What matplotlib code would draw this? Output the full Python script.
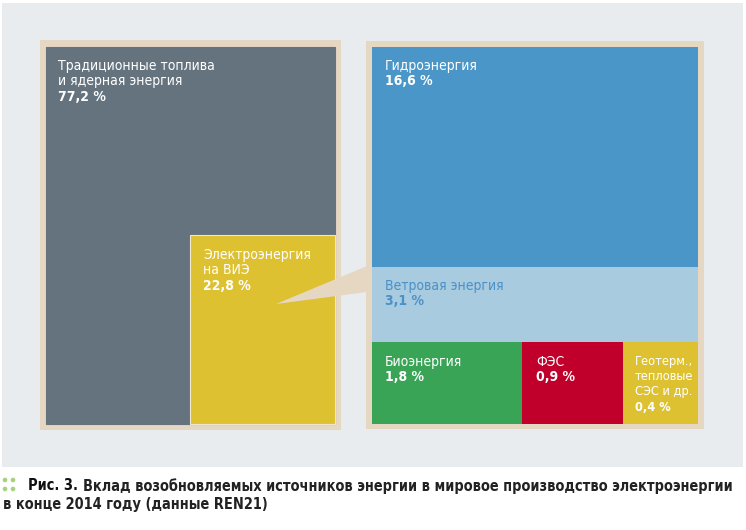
import matplotlib
matplotlib.use("Agg")
import matplotlib.pyplot as plt
from matplotlib import font_manager
from matplotlib.patches import Rectangle, Polygon, Circle

# data: world electricity production, end of 2014 (REN21)
main_labels = ["Традиционные топлива\nи ядерная энергия", "Электроэнергия\nна ВИЭ"]
main_shares = [77.2, 22.8]
ren_labels = ["Гидроэнергия", "Ветровая энергия", "Биоэнергия", "ФЭС",
              "Геотерм.,\nтепловые\nСЭС и др."]
ren_shares = [16.6, 3.1, 1.8, 0.9, 0.4]
caption_num = "Рис. 3."
caption_1 = "Вклад возобновляемых источников энергии в мировое производство электроэнергии"
caption_2 = "в конце 2014 году (данные REN21)"

# layout in pixels (x0, y0, x1, y1), hand placed like the original infographic
main_boxes = [(46, 47, 335, 424), (190, 235, 335, 424)]
ren_boxes = [(372, 47, 698, 267), (372, 267, 698, 342), (372, 342, 522, 424),
             (522, 342, 623, 424), (623, 342, 698, 424)]
main_colors = ["#65737e", "#dec130"]
ren_colors = ["#4b96c8", "#a8cbe0", "#39a456", "#c0002b", "#dec130"]
ren_text = ["white", "#4b90c6", "white", "white", "white"]

bg = "#e8ecef"
beige = "#e6d7c3"

# the original uses a condensed face, look what we have
names = {(f.name, f.stretch) for f in font_manager.fontManager.ttflist}
stretch = "normal"
if any(n == "Liberation Sans Narrow" for n, s in names):
    fam = ["Liberation Sans Narrow", "DejaVu Sans"]
elif ("DejaVu Sans", "condensed") in names:
    fam = ["DejaVu Sans"]
    stretch = "condensed"
else:
    fam = ["Roboto", "DejaVu Sans"]

fig = plt.figure(figsize=(7.46, 5.30), dpi=100)
ax = fig.add_axes([0, 0, 1, 1])
ax.set_xlim(0, 746)
ax.set_ylim(530, 0)
ax.axis("off")

ax.add_patch(Rectangle((2, 3), 741, 464, color=bg, lw=0))
# frames
ax.add_patch(Rectangle((40, 40), 301, 390, color=beige, lw=0))
ax.add_patch(Rectangle((366, 41), 338, 388, color=beige, lw=0))


def pct(v):
    return f"{v:.1f}".replace(".", ",") + " %"


def label(x, y, name, val, col, fs=10):
    n = name.count("\n") + 1
    ax.text(x, y, name, color=col, fontsize=fs, family=fam, stretch=stretch,
            va="top", ha="left", linespacing=1.12 * 10 / fs)
    ax.text(x, y + n * 15.4, pct(val), color=col, fontsize=fs, family=fam,
            stretch=stretch, weight="bold", va="top", ha="left")


for (x0, y0, x1, y1), c in zip(main_boxes, main_colors):
    ax.add_patch(Rectangle((x0, y0), x1 - x0, y1 - y0, facecolor=c,
                           edgecolor="#efe6cf" if c != main_colors[0] else c, lw=0.8))

# pointer wedge from the renewables box to the detail panel
ax.add_patch(Polygon([(276, 304), (367, 266), (367, 292)], closed=True, color=beige, lw=0))

for (x0, y0, x1, y1), c in zip(ren_boxes, ren_colors):
    ax.add_patch(Rectangle((x0, y0), x1 - x0, y1 - y0, color=c, lw=0))

label(58, 59, main_labels[0], main_shares[0], "white")
label(203, 248, main_labels[1], main_shares[1], "white")
offs = [(13, 12), (13, 12), (13, 13), (14, 13), (12, 13)]
sizes = [10, 10, 10, 10, 9.2]  # the last box is narrow
for (x0, y0, x1, y1), (dx, dy), nm, v, tc, fs in zip(ren_boxes, offs, ren_labels,
                                                     ren_shares, ren_text, sizes):
    label(x0 + dx, y0 + dy, nm, v, tc, fs)

# caption with the little green dots marker
for cx, cy in [(5, 480), (13, 480), (5, 489), (13, 489)]:
    ax.add_patch(Circle((cx, cy), 2.3, color="#a6d27a", lw=0))

kw = dict(family=fam, stretch=stretch, weight="bold", va="center", ha="left")
t1 = ax.text(28, 486, caption_num, color="#111111", **kw)
t2 = ax.text(0, 486, caption_1, color="#222222", **kw)
fig.canvas.draw()
r = fig.canvas.get_renderer()
# one size for the whole caption, shrink it until line 1 ends before the right edge
size = 12.0
while size > 8:
    t1.set_fontsize(size)
    t2.set_fontsize(size)
    t2.set_x(28 + t1.get_window_extent(r).width + 5)
    fig.canvas.draw()
    if t2.get_window_extent(r).x1 <= 741:
        break
    size -= 0.05
ax.text(3, 505, caption_2, fontsize=size, color="#222222", **kw)

fig.savefig("out.png", dpi=100, facecolor="white")
